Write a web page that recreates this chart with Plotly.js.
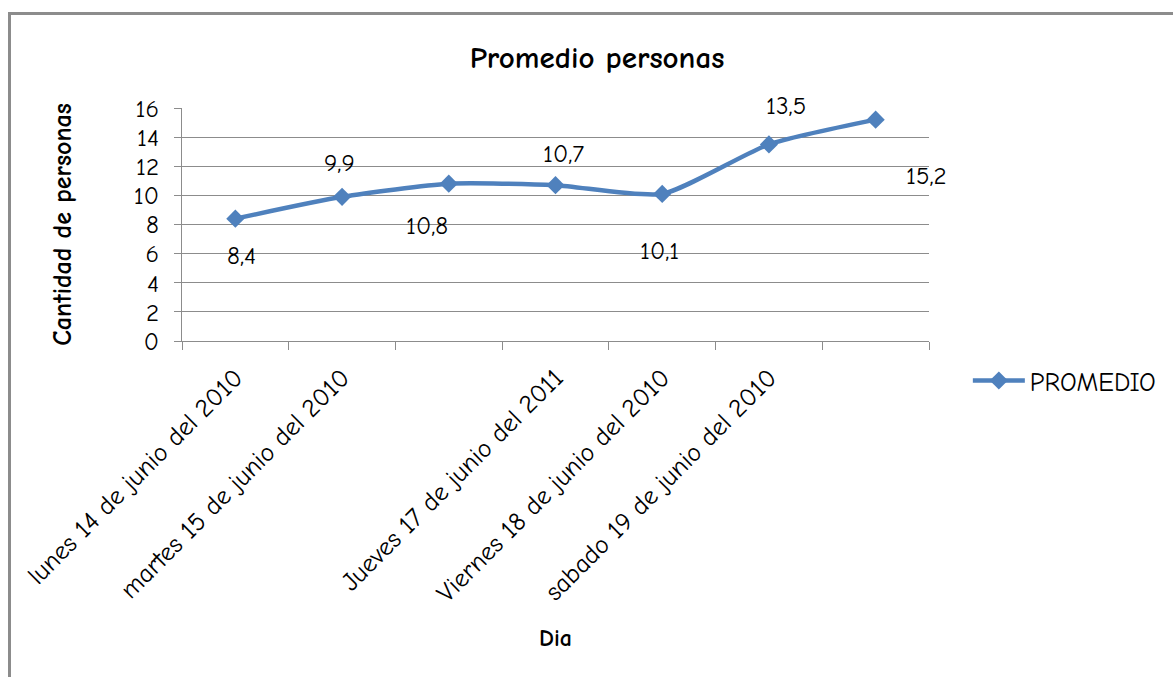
<!DOCTYPE html>
<html>
<head>
<meta charset="utf-8">
<script src="https://cdn.plot.ly/plotly-3.0.1.min.js"></script>
<style>
  html, body { margin: 0; padding: 0; background: #ffffff; }
  #chart { position: absolute; left: 0; top: 0; width: 1173px; height: 677px; }
  #frame {
    position: absolute; left: 8px; top: 12px; width: 1180px; height: 680px;
    border-top: 3px solid #8c8c8c; border-left: 3px solid #8c8c8c;
    pointer-events: none;
  }
</style>
</head>
<body>
<div id="chart"></div>
<div id="frame"></div>
<script>
// Average number of people per day
const dias = [
  "lunes 14 de junio del 2010",
  "martes 15 de junio del 2010",
  "",
  "Jueves 17 de junio del 2011",
  "Viernes 18 de junio del 2010",
  "sabado 19 de junio del 2010",
  ""
];
const promedio = [8.4, 9.9, 10.8, 10.7, 10.1, 13.5, 15.2];
const serieNombre = "PROMEDIO";

// Label placement around each point (pixels)
const labelShiftX = [6, -3, -22, 8, -3, 17, 51];
const labelShiftY = [-37, 34, -42, 32, -57, 39, -56];

const FONT = "'Comic Sans MS', 'Comic Neue', Lato, sans-serif";
const AZUL = "#4f81bd";
const GRIS = "#8c8c8c";

const idx = dias.map((_, i) => i);
const bordes = [];
for (let i = 0; i <= dias.length; i++) bordes.push(i - 0.5);

const trace = {
  x: idx,
  y: promedio,
  type: "scatter",
  mode: "lines+markers",
  name: serieNombre,
  line: { color: AZUL, width: 4.5, shape: "spline", smoothing: 0.6 },
  marker: { symbol: "diamond", size: 14, color: AZUL },
  hoverinfo: "skip"
};

const annotations = promedio.map((v, i) => ({
  x: i, y: v, xref: "x", yref: "y",
  text: String(v).replace(".", ","),
  showarrow: false,
  xanchor: "center", yanchor: "middle",
  xshift: labelShiftX[i], yshift: labelShiftY[i],
  font: { family: FONT, size: 25, color: "#000" }
}));

const layout = {
  width: 1173, height: 677,
  margin: { l: 182, r: 242, t: 108, b: 336 },
  paper_bgcolor: "#ffffff",
  plot_bgcolor: "#ffffff",
  font: { family: FONT, color: "#000" },
  title: {
    text: "<b>Promedio personas</b>",
    font: { family: FONT, size: 31, color: "#000" },
    x: 597 / 1173, xref: "container", xanchor: "center",
    y: 1 - 57 / 677, yref: "container", yanchor: "middle"
  },
  xaxis: {
    range: [-0.5, dias.length - 0.5],
    tickmode: "array",
    tickvals: idx,
    ticktext: dias,
    tickangle: -45,
    ticks: "outside", ticklen: 10, tickcolor: "rgba(0,0,0,0)",
    tickfont: { family: FONT, size: 26, color: "#000" },
    minor: { tickmode: "array", tickvals: bordes, ticks: "outside", ticklen: 8, tickcolor: GRIS, tickwidth: 1, showgrid: false },
    showgrid: false, zeroline: false,
    showline: true, linecolor: GRIS, linewidth: 1,
    fixedrange: true,
    title: { text: "<b>Dia</b>", font: { family: FONT, size: 24, color: "#000" }, standoff: 21 }
  },
  yaxis: {
    range: [0, 16], dtick: 2, tick0: 0,
    showgrid: true, gridcolor: GRIS, gridwidth: 1,
    zeroline: false,
    showline: true, linecolor: GRIS, linewidth: 1,
    ticks: "outside", ticklen: 7, tickcolor: GRIS,
    ticklabelstandoff: 10,
    tickfont: { family: FONT, size: 25, color: "#000" },
    fixedrange: true,
    title: { text: "<b>Cantidad de personas</b>", font: { family: FONT, size: 26, color: "#000" }, standoff: 54 }
  },
  showlegend: true,
  legend: {
    x: 1.052, xanchor: "left",
    y: -0.17, yanchor: "middle",
    itemwidth: 52,
    font: { family: FONT, size: 26, color: "#000" },
    bgcolor: "rgba(0,0,0,0)"
  },
  annotations: annotations,
  hovermode: false
};

Plotly.newPlot("chart", [trace], layout, { displayModeBar: false, staticPlot: true });
</script>
</body>
</html>
